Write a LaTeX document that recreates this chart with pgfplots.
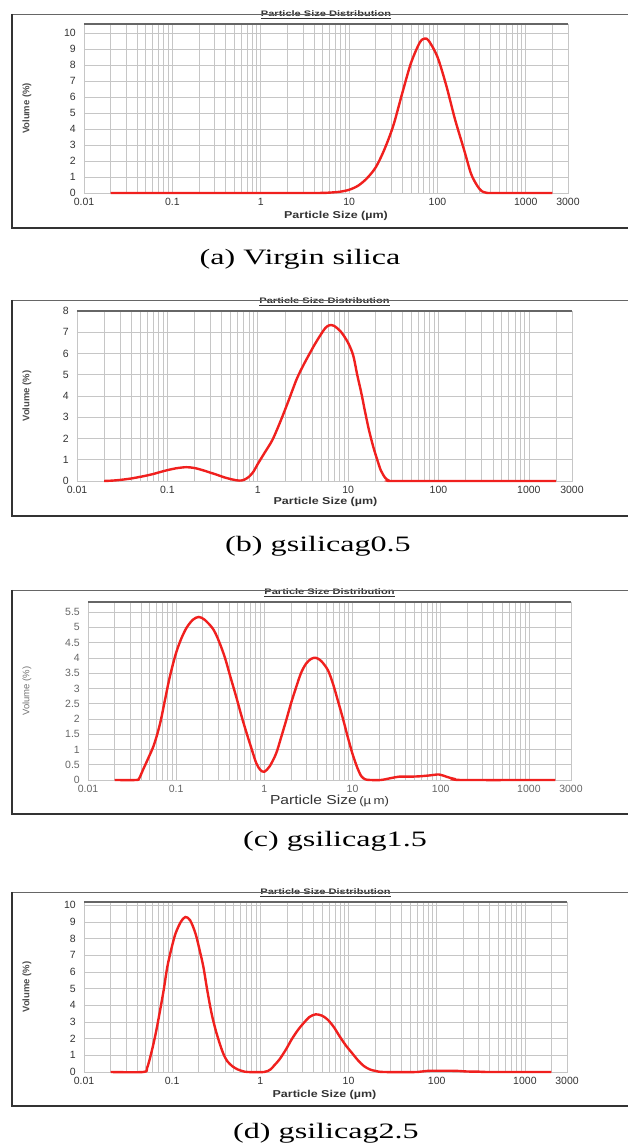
\documentclass[border=0pt]{standalone}
\usepackage{fontspec}
\setmainfont{Liberation Serif}
\setsansfont{Liberation Sans}
\usepackage{graphicx}
\usepackage{pgfplots}
\pgfplotsset{compat=1.18}
\usepackage{pgfplotstable}

\definecolor{psdred}{HTML}{F0201E}
\definecolor{gridgray}{HTML}{C6C6C6}
\definecolor{labelgray}{HTML}{333333}

% particle size (um) vs volume (%)
\pgfplotstableread{
x y
0.02 0
0.1 0
1 0
4 0
5.5 0.01
6.3 0.03
7.9 0.08
10 0.2
12.6 0.45
15.8 0.9
20 1.6
25 2.7
31.6 4.2
39.8 6.2
50 8.1
63 9.4
72 9.65
80 9.5
100 8.5
126 6.7
158 4.6
200 2.7
240 1.2
282 0.45
316 0.12
355 0.02
400 0
1000 0
2000 0
}\virgin

\pgfplotstableread{
x y
0.02 0
0.025 0.02
0.03 0.05
0.04 0.12
0.055 0.23
0.07 0.33
0.083 0.42
0.1 0.51
0.126 0.6
0.162 0.65
0.2 0.61
0.25 0.5
0.3 0.39
0.35 0.3
0.42 0.18
0.525 0.07
0.62 0.02
0.7 0.05
0.8 0.2
0.9 0.45
1.0 0.8
1.2 1.35
1.46 1.95
1.8 2.85
2.2 3.8
2.7 4.8
3.2 5.45
3.7 5.95
4.3 6.45
5.0 6.9
5.6 7.2
6.2 7.33
7 7.3
8.4 7.0
10 6.5
11.4 5.9
12.6 5.0
13.9 4.2
15.5 3.2
17 2.4
19 1.6
21 1.0
23 0.5
25.7 0.15
28 0.03
30 0
100 0
2000 0
}\gsilA

\pgfplotstableread{
x y
0.02 0
0.035 0
0.038 0.05
0.042 0.33
0.048 0.7
0.055 1.09
0.061 1.5
0.067 1.96
0.075 2.65
0.083 3.27
0.092 3.8
0.102 4.25
0.115 4.65
0.132 5.0
0.155 5.25
0.18 5.34
0.21 5.25
0.26 4.96
0.3 4.6
0.355 4.03
0.41 3.4
0.48 2.72
0.55 2.1
0.63 1.53
0.72 1.0
0.81 0.55
0.9 0.33
1.0 0.27
1.15 0.45
1.36 0.87
1.55 1.4
1.77 1.96
2.0 2.5
2.3 3.05
2.6 3.5
2.97 3.81
3.4 3.97
3.85 4.0
4.4 3.9
5.25 3.6
6.0 3.15
6.8 2.61
7.8 2.0
8.8 1.42
10 0.85
11.4 0.38
12.6 0.12
14 0.02
16 0
21 0
27 0.06
34 0.11
45 0.11
57 0.12
75 0.15
96 0.18
118 0.1
145 0.03
178 0
2000 0
}\gsilB

\pgfplotstableread{
x y
0.02 0
0.047 0
0.052 0.25
0.058 1.15
0.065 2.3
0.072 3.54
0.08 4.9
0.088 6.3
0.098 7.4
0.109 8.3
0.125 9.0
0.141 9.3
0.16 9.1
0.184 8.3
0.205 7.3
0.226 6.3
0.25 4.9
0.279 3.54
0.31 2.55
0.344 1.75
0.38 1.1
0.42 0.66
0.48 0.35
0.55 0.16
0.63 0.05
0.72 0
1.1 0
1.3 0.15
1.45 0.42
1.65 0.76
1.95 1.35
2.26 1.95
2.65 2.5
3.1 2.94
3.6 3.3
4.24 3.46
5.0 3.38
5.8 3.14
6.8 2.7
7.9 2.15
9.3 1.6
10.9 1.15
12.8 0.7
14.9 0.36
17.5 0.15
20.4 0.06
25 0
60 0
80 0.07
160 0.07
220 0.03
300 0.02
400 0
2000 0
}\gsilC

\newcommand{\topborder}{\draw[black!60, line width=1.3pt] (rel axis cs:0,1) -- (rel axis cs:1,1);}
\newcommand{\psdtitle}{\scalebox{1.38}[1]{\underline{Particle Size Distribution}}}
\newcommand{\psdxlabel}{\scalebox{1.25}[1]{Particle Size (µm)}}

\begin{document}
\begin{tikzpicture}
\useasboundingbox (0pt,0pt) rectangle (628pt,1143pt);

% (a) Virgin silica
\begin{axis}[at={(84pt,950pt)}, anchor=south west, scale only axis, width=484pt, height=169pt,
  xmode=log, xmin=0.01, xmax=3000, ymin=0, ymax=10.56, clip=false,
  xtick={0.01,0.1,1,10,100,1000,3000},
  xticklabels={0.01,0.1,1,10,100,1000,3000},
  minor xtick={0.02,0.03,0.04,0.05,0.06,0.07,0.08,0.09,0.2,0.3,0.4,0.5,0.6,0.7,0.8,0.9,2,3,4,5,6,7,8,9,20,30,40,50,60,70,80,90,200,300,400,500,600,700,800,900,2000},
  ytick={0,1,2,3,4,5,6,7,8,9,10},
  yticklabels={0,1,2,3,4,5,6,7,8,9,10},
  xmajorgrids, xminorgrids, ymajorgrids,
  major grid style={gridgray, line width=0.7pt},
  minor grid style={gridgray, line width=0.7pt},
  axis line style={gridgray, line width=0.7pt},
  major tick length=0pt, minor tick length=0pt,
  tick label style={font=\sffamily\fontsize{10.5}{11}\selectfont, text=labelgray},
  xticklabel style={anchor=north, inner sep=0pt, yshift=-5pt},
  yticklabel style={anchor=east, inner sep=0pt, xshift=-8pt},
  title={\psdtitle},
  title style={at={(rel axis cs:0.5,1)}, anchor=base, yshift=1.5pt,
    font=\sffamily\bfseries\fontsize{8}{9}\selectfont, text=labelgray},
  xlabel={\psdxlabel},
  xlabel style={at={(rel axis cs:0.5,0)}, anchor=center, yshift=-23pt, xshift=10pt,
    font=\sffamily\bfseries\fontsize{10}{11}\selectfont, text=labelgray},
  ylabel={Volume (\%)},
  ylabel style={at={(rel axis cs:0,0.5)}, anchor=center, yshift=57pt,
    font=\sffamily\bfseries\fontsize{9.5}{10}\selectfont, text=black!70}]
  \addplot[psdred, line width=2.4pt, smooth, tension=0.5] table {\virgin};
  \topborder
\end{axis}
\draw[black!60, line width=0.9pt] (628pt,1129pt) -- (12pt,1129pt);
\draw[black!80, line width=1.6pt] (12pt,1129pt) -- (12pt,915pt) -- (628pt,915pt);
\node[anchor=base, font=\fontsize{22}{26}\selectfont, xscale=1.46] at (300pt,878pt) {(a) Virgin silica};

% (b) gsilicag0.5
\begin{axis}[at={(77pt,662pt)}, anchor=south west, scale only axis, width=495pt, height=170pt,
  xmode=log, xmin=0.01, xmax=3000, ymin=0, ymax=8, clip=false,
  xtick={0.01,0.1,1,10,100,1000,3000},
  xticklabels={0.01,0.1,1,10,100,1000,3000},
  minor xtick={0.02,0.03,0.04,0.05,0.06,0.07,0.08,0.09,0.2,0.3,0.4,0.5,0.6,0.7,0.8,0.9,2,3,4,5,6,7,8,9,20,30,40,50,60,70,80,90,200,300,400,500,600,700,800,900,2000},
  ytick={0,1,2,3,4,5,6,7,8},
  yticklabels={0,1,2,3,4,5,6,7,8},
  xmajorgrids, xminorgrids, ymajorgrids,
  major grid style={gridgray, line width=0.7pt},
  minor grid style={gridgray, line width=0.7pt},
  axis line style={gridgray, line width=0.7pt},
  major tick length=0pt, minor tick length=0pt,
  tick label style={font=\sffamily\fontsize{10.5}{11}\selectfont, text=labelgray},
  xticklabel style={anchor=north, inner sep=0pt, yshift=-5pt},
  yticklabel style={anchor=east, inner sep=0pt, xshift=-8pt},
  title={\psdtitle},
  title style={at={(rel axis cs:0.5,1)}, anchor=base, yshift=1.5pt,
    font=\sffamily\bfseries\fontsize{8}{9}\selectfont, text=labelgray},
  xlabel={\psdxlabel},
  xlabel style={at={(rel axis cs:0.5,0)}, anchor=center, yshift=-21pt, xshift=1pt,
    font=\sffamily\bfseries\fontsize{10}{11}\selectfont, text=labelgray},
  ylabel={Volume (\%)},
  ylabel style={at={(rel axis cs:0,0.5)}, anchor=center, yshift=50pt,
    font=\sffamily\bfseries\fontsize{9.5}{10}\selectfont, text=black!70}]
  \addplot[psdred, line width=2.4pt, smooth, tension=0.5] table {\gsilA};
  \topborder
\end{axis}
\draw[black!60, line width=0.9pt] (628pt,843pt) -- (12pt,843pt);
\draw[black!80, line width=1.6pt] (12pt,843pt) -- (12pt,627pt) -- (628pt,627pt);
\node[anchor=base, font=\fontsize{22}{26}\selectfont, xscale=1.46] at (318pt,591pt) {(b) gsilicag0.5};

% (c) gsilicag1.5
\begin{axis}[at={(88pt,363pt)}, anchor=south west, scale only axis, width=483pt, height=178pt,
  xmode=log, xmin=0.01, xmax=3000, ymin=0, ymax=5.83, clip=false,
  xtick={0.01,0.1,1,10,100,1000,3000},
  xticklabels={0.01,0.1,1,10,100,1000,3000},
  minor xtick={0.02,0.03,0.04,0.05,0.06,0.07,0.08,0.09,0.2,0.3,0.4,0.5,0.6,0.7,0.8,0.9,2,3,4,5,6,7,8,9,20,30,40,50,60,70,80,90,200,300,400,500,600,700,800,900,2000},
  ytick={0,0.5,1,1.5,2,2.5,3,3.5,4,4.5,5,5.5},
  yticklabels={0,0.5,1,1.5,2,2.5,3,3.5,4,4.5,5,5.5},
  xmajorgrids, xminorgrids, ymajorgrids,
  major grid style={gridgray, line width=0.7pt},
  minor grid style={gridgray, line width=0.7pt},
  axis line style={gridgray, line width=0.7pt},
  major tick length=0pt, minor tick length=0pt,
  tick label style={font=\sffamily\fontsize{10.5}{11}\selectfont, text=black!60},
  xticklabel style={anchor=north, inner sep=0pt, yshift=-5pt},
  yticklabel style={anchor=east, inner sep=0pt, xshift=-8pt},
  title={\psdtitle},
  title style={at={(rel axis cs:0.5,1)}, anchor=base, yshift=1.5pt,
    font=\sffamily\bfseries\fontsize{8}{9}\selectfont, text=labelgray},
  xlabel={\scalebox{1.2}[1]{Particle Size\,{\fontsize{11}{12}\selectfont(µ\,m)}}},
  xlabel style={at={(rel axis cs:0.5,0)}, anchor=center, yshift=-21pt, xshift=0pt,
    font=\sffamily\fontsize{13}{14}\selectfont, text=labelgray},
  ylabel={Volume (\%)},
  ylabel style={at={(rel axis cs:0,0.5)}, anchor=center, yshift=61pt,
    font=\sffamily\fontsize{9.5}{10}\selectfont, text=black!55}]
  \addplot[psdred, line width=2.4pt, smooth, tension=0.5] table {\gsilB};
  \topborder
\end{axis}
\draw[black!60, line width=0.9pt] (628pt,553pt) -- (12pt,553pt);
\draw[black!80, line width=1.6pt] (12pt,553pt) -- (12pt,329pt) -- (628pt,329pt);
\node[anchor=base, font=\fontsize{22}{26}\selectfont, xscale=1.46] at (335pt,296pt) {(c) gsilicag1.5};

% (d) gsilicag2.5
\begin{axis}[at={(84pt,71pt)}, anchor=south west, scale only axis, width=483pt, height=170pt,
  xmode=log, xmin=0.01, xmax=3000, ymin=0, ymax=10.2, clip=false,
  xtick={0.01,0.1,1,10,100,1000,3000},
  xticklabels={0.01,0.1,1,10,100,1000,3000},
  minor xtick={0.02,0.03,0.04,0.05,0.06,0.07,0.08,0.09,0.2,0.3,0.4,0.5,0.6,0.7,0.8,0.9,2,3,4,5,6,7,8,9,20,30,40,50,60,70,80,90,200,300,400,500,600,700,800,900,2000},
  ytick={0,1,2,3,4,5,6,7,8,9,10},
  yticklabels={0,1,2,3,4,5,6,7,8,9,10},
  xmajorgrids, xminorgrids, ymajorgrids,
  major grid style={gridgray, line width=0.7pt},
  minor grid style={gridgray, line width=0.7pt},
  axis line style={gridgray, line width=0.7pt},
  major tick length=0pt, minor tick length=0pt,
  tick label style={font=\sffamily\fontsize{10.5}{11}\selectfont, text=labelgray},
  xticklabel style={anchor=north, inner sep=0pt, yshift=-5pt},
  yticklabel style={anchor=east, inner sep=0pt, xshift=-8pt},
  title={\psdtitle},
  title style={at={(rel axis cs:0.5,1)}, anchor=base, yshift=1.5pt,
    font=\sffamily\bfseries\fontsize{8}{9}\selectfont, text=labelgray},
  xlabel={\psdxlabel},
  xlabel style={at={(rel axis cs:0.5,0)}, anchor=center, yshift=-23pt, xshift=-1pt,
    font=\sffamily\bfseries\fontsize{10}{11}\selectfont, text=labelgray},
  ylabel={Volume (\%)},
  ylabel style={at={(rel axis cs:0,0.5)}, anchor=center, yshift=57pt,
    font=\sffamily\bfseries\fontsize{9.5}{10}\selectfont, text=black!70}]
  \addplot[psdred, line width=2.4pt, smooth, tension=0.5] table {\gsilC};
  \topborder
\end{axis}
\draw[black!60, line width=0.9pt] (628pt,251pt) -- (12pt,251pt);
\draw[black!80, line width=1.6pt] (12pt,251pt) -- (12pt,37pt) -- (628pt,37pt);
\node[anchor=base, font=\fontsize{22}{26}\selectfont, xscale=1.46] at (326pt,5pt) {(d) gsilicag2.5};
\end{tikzpicture}
\end{document}
